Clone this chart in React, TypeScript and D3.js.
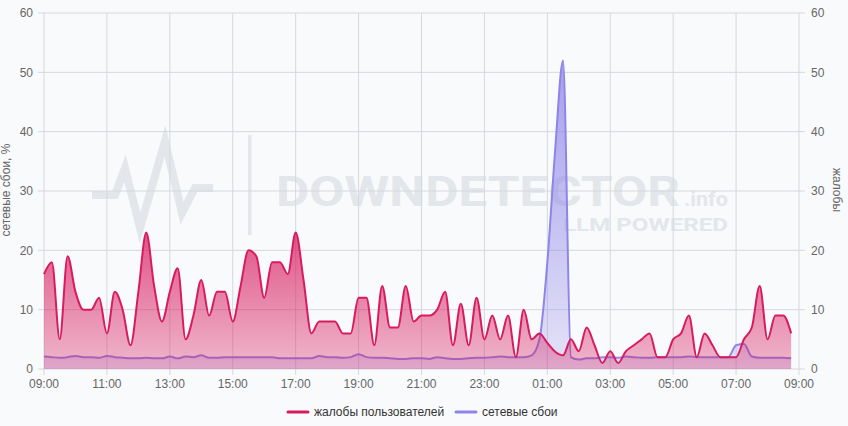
import React from "react";
import * as d3 from "d3";

// ---- data (15-minute samples, 09:00 .. 08:45) ----
const complaints: number[] = [
  16, 18, 5, 19, 13, 10, 10, 12, 6, 13,
  10, 4, 13, 23, 14, 8, 13, 17, 5, 9,
  15, 9, 13, 13, 8, 14, 20, 19, 12, 18,
  18, 16, 23, 15, 6, 8, 8, 8, 6, 6,
  12, 12, 4, 14, 7, 7, 14, 8, 9, 9,
  10, 13, 4, 11, 4, 12, 5, 9, 5, 9,
  2, 10, 5, 6, 4.4, 2.9, 2.3, 5, 3, 7,
  4, 1, 3, 1, 3, 4, 5, 6, 2, 2,
  5, 6, 9, 2, 6, 4, 2, 2, 2, 5,
  7, 14, 5, 9, 9, 6,
];

const outages: number[] = [
  2.1, 2.0, 1.9, 2.0, 2.2, 2.0, 2.0, 1.9, 2.2, 2.0,
  1.9, 1.8, 1.8, 1.9, 1.8, 1.8, 2.1, 1.8, 2.1, 2.0,
  2.3, 1.9, 1.9, 2.0, 2.0, 2.0, 2.0, 2.0, 2.0, 2.0,
  1.8, 1.8, 1.8, 1.8, 1.8, 2.2, 2.0, 2.0, 1.9, 2.0,
  2.5, 2.0, 1.9, 1.9, 1.8, 1.7, 1.7, 1.8, 1.8, 1.7,
  2.0, 1.8, 1.7, 1.7, 1.8, 1.9, 1.9, 2.0, 2.1, 2.0,
  2.0, 2.0, 2.3, 5, 18, 37, 52, 2, 1.6, 1.8,
  1.8, 2.0, 2.0, 1.9, 2.1, 2.0, 1.9, 1.9, 2.0, 2.0,
  2.0, 2.0, 2.1, 2.0, 2.0, 2.0, 2.0, 2.0, 4, 4.2,
  2.1, 1.9, 1.9, 1.9, 1.9, 1.8,
];

const xTickLabels: string[] = [
  "09:00", "11:00", "13:00", "15:00", "17:00", "19:00", "21:00",
  "23:00", "01:00", "03:00", "05:00", "07:00", "09:00",
];
const yTicks: number[] = [0, 10, 20, 30, 40, 50, 60];

const leftTitle = "сетевые сбои, %";
const rightTitle = "жалобы";
const seriesNames = ["жалобы пользователей", "сетевые сбои"];

const W = 848;
const H = 426;
const PL = 44, PR = 799, PT = 13, PB = 369;
const FONT = "'Liberation Sans', Arial, sans-serif";
const PINK = "#d81b5e";
const PURPLE = "#8f84e8";
const GRID = "#d5d8dd";
const WM = "#e3e6ea";
const WMFONT = "Roboto, 'Liberation Sans', sans-serif";

export default function App() {
  const start = new Date(2024, 0, 1, 9, 0, 0);
  const end = d3.timeHour.offset(start, 24);
  const x = d3.scaleTime().domain([start, end]).range([PL, PR]);
  const y = d3.scaleLinear().domain([0, 60]).range([PB, PT]);
  const times = complaints.map((_, i) => d3.timeMinute.offset(start, 15 * i));
  const tickTimes = xTickLabels.map((_, i) => d3.timeHour.offset(start, 2 * i));

  const area = (vals: number[]) =>
    d3.area<number>()
      .x((_, i) => x(times[i]))
      .y0(y(0))
      .y1((d) => y(d))
      .curve(d3.curveMonotoneX)(vals) || "";
  const line = (vals: number[]) =>
    d3.line<number>()
      .x((_, i) => x(times[i]))
      .y((d) => y(d))
      .curve(d3.curveMonotoneX)(vals) || "";

  return (
    <svg
      width={W}
      height={H}
      style={{ position: "absolute", left: 0, top: 0, background: "#f9fafb" }}
      fontFamily={FONT}
    >
      <defs>
        <linearGradient id="gPink" gradientUnits="userSpaceOnUse" x1="0" x2="0" y1={y(25)} y2={y(0)}>
          <stop offset="0" stopColor={PINK} stopOpacity={0.78} />
          <stop offset="1" stopColor={PINK} stopOpacity={0.3} />
        </linearGradient>
        <linearGradient id="gPurple" gradientUnits="userSpaceOnUse" x1="0" x2="0" y1={y(52)} y2={y(0)}>
          <stop offset="0" stopColor={PURPLE} stopOpacity={0.78} />
          <stop offset="1" stopColor={PURPLE} stopOpacity={0.2} />
        </linearGradient>
      </defs>
      <rect x={0} y={0} width={W} height={H} fill="#f9fafb" />

      {/* watermark */}
      <g>
        <polyline
          points="92,195 115,195 125,168 140,228 165,141 182,213 195,188 213,188"
          fill="none"
          stroke={WM}
          strokeWidth={8}
          strokeLinejoin="miter"
        />
        <rect x={248} y={135} width={3.5} height={100} fill={WM} />
        <text x={276} y={206} fontFamily={WMFONT} fontWeight={700} fontSize={42}
          fill={WM} textLength={404} lengthAdjust="spacingAndGlyphs">DOWNDETECTOR</text>
        <text x={684} y={206} fontFamily={WMFONT} fontWeight={700} fontSize={21}
          fill={WM} textLength={44} lengthAdjust="spacingAndGlyphs">.info</text>
        <text x={563} y={231} fontFamily={WMFONT} fontWeight={700} fontSize={19}
          fill={WM} textLength={165} lengthAdjust="spacingAndGlyphs">LLM POWERED</text>
      </g>

      {/* grid */}
      {yTicks.map((t) => (
        <line key={"h" + t} x1={PL} x2={PR} y1={y(t)} y2={y(t)} stroke={GRID} strokeWidth={1} />
      ))}
      {tickTimes.map((t, i) => (
        <line key={"v" + i} x1={x(t)} x2={x(t)} y1={PT} y2={PB} stroke={GRID} strokeWidth={1} />
      ))}
      {/* tick marks */}
      {tickTimes.map((t, i) => (
        <line key={"xt" + i} x1={x(t)} x2={x(t)} y1={PB} y2={PB + 6} stroke={GRID} strokeWidth={1} />
      ))}
      {yTicks.map((t) => (
        <g key={"yt" + t}>
          <line x1={PL - 6} x2={PL} y1={y(t)} y2={y(t)} stroke={GRID} />
          <line x1={PR} x2={PR + 6} y1={y(t)} y2={y(t)} stroke={GRID} />
        </g>
      ))}

      {/* series */}
      <path d={area(outages)} fill="url(#gPurple)" />
      <path d={line(outages)} fill="none" stroke={PURPLE} strokeWidth={2} />
      <path d={area(complaints)} fill="url(#gPink)" />
      <path d={line(complaints)} fill="none" stroke={PINK} strokeWidth={2} />

      {/* axis labels */}
      {yTicks.map((t) => (
        <text key={"yl" + t} x={33} y={y(t)} dy="0.35em" textAnchor="end" fontSize={12} fill="#666">
          {t}
        </text>
      ))}
      {yTicks.map((t) => (
        <text key={"yr" + t} x={811} y={y(t)} dy="0.35em" textAnchor="start" fontSize={12} fill="#666">
          {t}
        </text>
      ))}
      {tickTimes.map((t, i) => (
        <text key={"xl" + i} x={x(t)} y={388} textAnchor="middle" fontSize={12} fill="#666">
          {xTickLabels[i]}
        </text>
      ))}
      <text transform="translate(10,190) rotate(-90)" textAnchor="middle" fontSize={12} fill="#666">
        {leftTitle}
      </text>
      <text transform="translate(833,190) rotate(90)" textAnchor="middle" fontSize={12} fill="#666">
        {rightTitle}
      </text>

      {/* legend */}
      <line x1={288} x2={308} y1={412} y2={412} stroke={PINK} strokeWidth={3} strokeLinecap="round" />
      <text x={314} y={416} fontSize={12} fill="#333">{seriesNames[0]}</text>
      <line x1={456} x2={476} y1={412} y2={412} stroke={PURPLE} strokeWidth={3} strokeLinecap="round" />
      <text x={482} y={416} fontSize={12} fill="#333">{seriesNames[1]}</text>
    </svg>
  );
}
